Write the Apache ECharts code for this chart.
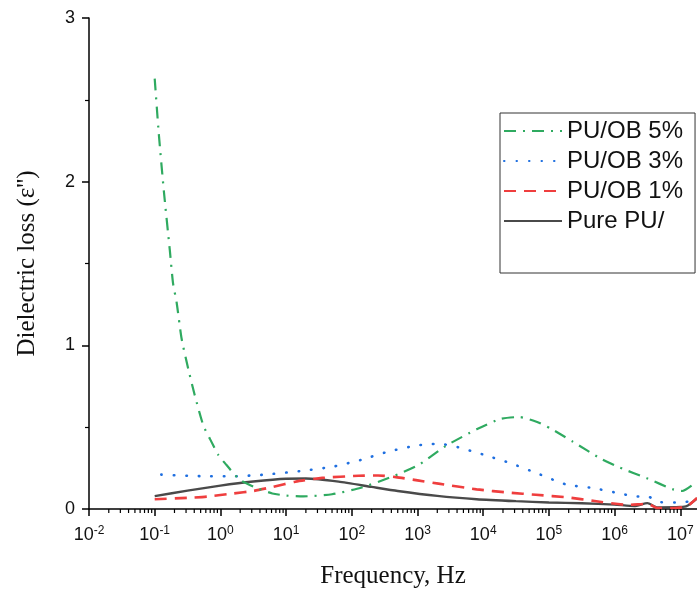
<!DOCTYPE html>
<html>
<head>
<meta charset="utf-8">
<script src="https://cdn.jsdelivr.net/npm/echarts@6/dist/echarts.min.js"></script>
<style>html,body{margin:0;padding:0;background:#fff}#c{width:697px;height:594px}</style>
</head>
<body>
<div id="c"></div>
<script>
// ---- data (frequency in Hz, dielectric loss) ----
const seriesNames = ['PU/OB 5%', 'PU/OB 3%', 'PU/OB 1%', 'Pure PU/'];

const ob5Freq = [0.1, 0.115, 0.138, 0.17, 0.19, 0.216, 0.257, 0.324, 0.407, 0.55, 0.69, 0.93, 1.23, 1.95, 3.63, 6.17, 10, 18.2, 50, 138, 407, 1050, 2690, 7940, 18200, 35500, 63100, 105000, 234000, 603000, 1.2e6, 3.09e6, 7.76e6, 1.07e7, 1.795e7];
const ob5Loss = [2.63, 2.30, 1.94, 1.58, 1.38, 1.26, 1.04, 0.857, 0.695, 0.51, 0.43, 0.33, 0.27, 0.18, 0.127, 0.095, 0.082, 0.077, 0.09, 0.13, 0.197, 0.27, 0.385, 0.487, 0.55, 0.562, 0.535, 0.493, 0.41, 0.31, 0.253, 0.188, 0.12, 0.11, 0.168];

const ob3Freq = [0.126, 0.316, 0.631, 1.58, 4.68, 19.5, 53.7, 138, 355, 912, 1580, 2510, 4070, 10500, 26900, 69200, 182000, 468000, 1.2e6, 2e6, 3.24e6, 5.01e6, 8.32e6, 1.35e7, 1.58e7];
const ob3Loss = [0.21, 0.203, 0.2, 0.2, 0.21, 0.235, 0.26, 0.30, 0.35, 0.386, 0.397, 0.395, 0.378, 0.33, 0.278, 0.215, 0.15, 0.128, 0.095, 0.077, 0.075, 0.042, 0.04, 0.046, 0.06];

const ob1Freq = [0.1, 0.316, 0.631, 1.58, 3.16, 6.31, 13.8, 35.5, 126, 251, 468, 1000, 2090, 7940, 25100, 63100, 200000, 468000, 1.58e6, 3.16e6, 4.47e6, 7.94e6, 1.26e7, 1.795e7];
const ob1Loss = [0.06, 0.068, 0.076, 0.095, 0.11, 0.135, 0.167, 0.19, 0.203, 0.205, 0.195, 0.175, 0.155, 0.12, 0.1, 0.087, 0.07, 0.05, 0.025, 0.032, 0.006, 0.006, 0.016, 0.068];

const pureFreq = [0.1, 0.316, 1, 3.16, 10, 20, 63, 200, 500, 2000, 7940, 31600, 100000, 316000, 1e6, 2e6, 3.16e6, 4.47e6, 1e7, 1.26e7, 1.795e7];
const pureLoss = [0.079, 0.112, 0.143, 0.168, 0.185, 0.186, 0.167, 0.135, 0.11, 0.08, 0.06, 0.048, 0.04, 0.035, 0.027, 0.018, 0.036, 0.01, 0.012, 0.018, 0.065];

const xMin = 0.01, xMax = 1.795e7;
const yTicks = [0, 1, 2, 3];
const xDecades = [-2, -1, 0, 1, 2, 3, 4, 5, 6, 7];

// minor tick positions of the log axis (2..9 x 10^n)
const minorTickFreq = [];
xDecades.forEach(function (n) {
  for (let k = 2; k <= 9; k++) {
    const v = k * Math.pow(10, n);
    if (v < xMax) minorTickFreq.push([v, 0]);
  }
});

function zip(a, b) { return a.map(function (v, i) { return [v, b[i]]; }); }

const chart = echarts.init(document.getElementById('c'), null, { renderer: 'canvas' });
const sans = 'Liberation Sans, Arial, sans-serif';
const serif = 'Liberation Serif, Times New Roman, serif';

chart.setOption({
  animation: false,
  backgroundColor: '#fff',
  grid: { left: 89, right: 0, top: 18, bottom: 83, containLabel: false },
  legend: {
    data: seriesNames,
    orient: 'vertical',
    left: 500,
    top: 113,
    itemWidth: 58,
    itemHeight: 14,
    itemGap: 6,
    padding: [6, 12, 40, 3],
    borderColor: '#333',
    borderWidth: 1,
    borderRadius: 0,
    backgroundColor: '#fff',
    itemStyle: { opacity: 0, borderWidth: 0 },
    textStyle: { fontFamily: sans, fontSize: 24, color: '#111' },
    selectedMode: false
  },
  xAxis: {
    type: 'log',
    logBase: 10,
    min: xMin,
    max: xMax,
    splitNumber: 10,
    name: 'Frequency, Hz',
    nameLocation: 'middle',
    nameGap: 55,
    nameTextStyle: { fontFamily: serif, fontSize: 25, color: '#111' },
    axisLine: { lineStyle: { color: '#000', width: 1.5 } },
    axisTick: { show: true, length: 7, lineStyle: { color: '#000', width: 1.5 } },
    splitLine: { show: false },
    axisLabel: {
      margin: 16,
      showMaxLabel: false,
      color: '#111',
      fontFamily: sans,
      fontSize: 18,
      formatter: function (v) {
        const n = Math.log10(v);
        const r = Math.round(n);
        if (Math.abs(n - r) > 1e-6) return '';
        return '10{s|' + r + '}';
      },
      rich: {
        s: { fontFamily: sans, fontSize: 12, verticalAlign: 'top', color: '#111', padding: [0, 0, 8, 0] }
      }
    }
  },
  yAxis: {
    type: 'value',
    min: 0,
    max: 3,
    interval: 1,
    name: "Dielectric loss (ε'')",
    nameLocation: 'middle',
    nameGap: 49,
    nameTextStyle: { fontFamily: serif, fontSize: 25, color: '#111' },
    axisLine: { show: true, lineStyle: { color: '#000', width: 1.5 } },
    axisTick: { show: true, length: 7, lineStyle: { color: '#000', width: 1.5 } },
    minorTick: { show: true, splitNumber: 2, length: 4, lineStyle: { color: '#000', width: 1.2 } },
    splitLine: { show: false },
    axisLabel: {
      margin: 14,
      color: '#111',
      fontFamily: sans,
      fontSize: 18,
      formatter: function (v) { return yTicks.indexOf(v) >= 0 ? String(v) : ''; }
    }
  },
  series: [
    {
      name: 'PU/OB 5%', type: 'line', data: zip(ob5Freq, ob5Loss), symbol: 'none', smooth: 0.2,
      lineStyle: { color: '#2faa60', width: 2.2, type: [12, 7, 2, 7] }, itemStyle: { color: '#2faa60' }, z: 4
    },
    {
      name: 'PU/OB 3%', type: 'line', data: zip(ob3Freq, ob3Loss), symbol: 'none', smooth: 0.2,
      lineStyle: { color: '#1f6fe0', width: 2.6, type: [0.5, 12], cap: 'round' }, itemStyle: { color: '#1f6fe0' }, z: 3
    },
    {
      name: 'PU/OB 1%', type: 'line', data: zip(ob1Freq, ob1Loss), symbol: 'none', smooth: 0.2,
      lineStyle: { color: '#ef3e3e', width: 2.6, type: [12, 8] }, itemStyle: { color: '#ef3e3e' }, z: 3
    },
    {
      name: 'Pure PU/', type: 'line', data: zip(pureFreq, pureLoss), symbol: 'none', smooth: 0.2,
      lineStyle: { color: '#4a4a4a', width: 2.4, type: 'solid' }, itemStyle: { color: '#4a4a4a' }, z: 2
    },
    {
      name: 'minorTicks', type: 'custom', data: minorTickFreq, silent: true, clip: false, z: 10,
      renderItem: function (params, api) {
        const p = api.coord([api.value(0), 0]);
        return {
          type: 'line',
          shape: { x1: p[0], y1: p[1], x2: p[0], y2: p[1] + 4 },
          style: { stroke: '#000', lineWidth: 1.2 }
        };
      }
    }
  ]
});
</script>
</body>
</html>
